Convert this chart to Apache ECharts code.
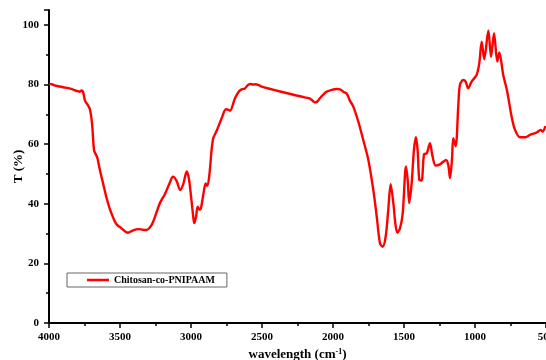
<!DOCTYPE html>
<html>
<head>
<meta charset="utf-8">
<script src="https://cdn.jsdelivr.net/npm/echarts@6/dist/echarts.min.js"></script>
<style>html,body{margin:0;padding:0;background:#fff}#c{width:546px;height:360px}</style>
</head>
<body>
<div id="c"></div>
<script>
var seriesName = 'Chitosan-co-PNIPAAM';
var wavenumbers = [4000,3975,3950,3900,3850,3800,3782,3772,3760,3746,3725,3711,3697,3683,3670,3660,3640,3620,3595,3570,3545,3523,3490,3444,3410,3373,3340,3312,3290,3268,3240,3218,3183,3150,3127,3100,3077,3055,3030,3015,3002,2985,2977,2965,2953,2940,2930,2910,2897,2885,2870,2855,2843,2819,2784,2754,2735,2725,2690,2660,2643,2620,2600,2585,2560,2549,2526,2502,2350,2200,2162,2140,2127,2110,2092,2060,2044,2009,1975,1951,1928,1904,1880,1857,1822,1787,1751,1716,1692,1669,1650,1629,1611,1594,1575,1560,1547,1528,1509,1486,1474,1463,1446,1430,1416,1404,1392,1376,1359,1340,1317,1301,1277,1247,1204,1188,1176,1162,1153,1136,1118,1106,1083,1066,1048,1024,989,970,953,935,906,887,866,843,829,801,773,742,718,683,648,613,566,538,523,505];
var transmittance = [80.3,80.0,79.6,79.1,78.6,77.8,77.6,78.0,77.5,74.5,73.0,71.5,67,58,56.5,55.5,51,47,42,38,35,33,31.8,30.3,31.0,31.5,31.3,31.2,32,33.8,37.5,40.3,43.3,47,49.1,47.5,44.6,46.5,50.8,48.5,43.5,36,33.5,35.5,39,38,38.5,44,46.8,46,50,58,62,64.5,68.7,71.7,71.5,71.2,75.4,77.8,78.4,78.7,79.8,80.2,80.0,80.1,79.9,79.3,77.4,75.7,75.3,74.4,74.0,74.3,75.4,77,77.6,78.2,78.5,78.4,77.6,77.0,74.5,72.6,67.6,61.4,54.7,44.6,35.7,26.7,25.6,29,37.9,46.6,40.2,33,30.3,31.8,36.8,52.5,48,40.2,46.9,58,62.3,58,48,47.8,56.6,56.9,60.3,56.4,52.8,53.2,54.7,53,48.6,55,62,59.3,72.6,79.9,81.5,81,78.7,81,83.2,87.1,94.4,88.5,98.1,89.3,97.2,87.7,90.8,83.2,77.6,69.2,64.8,62.3,62.3,63.1,63.9,64.8,64.2,66.1];
var xTicks = [500,1000,1500,2000,2500,3000,3500,4000];
var yTicks = [0,20,40,60,80,100];

var pts = wavenumbers.map(function(w,i){return [w, transmittance[i]];});
var font = "'Liberation Serif', 'Times New Roman', serif";
var chart = echarts.init(document.getElementById('c'), null, {renderer:'canvas'});
chart.setOption({
  animation:false,
  backgroundColor:'#fff',
  grid:{left:49,right:0,top:10,bottom:37,containLabel:false,outerBoundsMode:'none'},
  legend:{
    left:67, top:273, orient:'horizontal',
    padding:[2,12,2,20],
    borderColor:'#666', borderWidth:1,
    itemWidth:22, itemHeight:2.5, itemGap:4,
    textStyle:{fontFamily:font,fontWeight:'bold',fontSize:10,color:'#000'},
    data:[{name:seriesName, icon:'rect', itemStyle:{color:'#ff0000'}}]
  },
  xAxis:{
    type:'value', inverse:true, min:500, max:4000, interval:500,
    name:'wavelength (cm{sup|-1})', nameLocation:'middle', nameGap:25, nameMoveOverlap:false,
    nameTextStyle:{fontFamily:font,fontWeight:'bold',fontSize:13,color:'#000',
      rich:{sup:{fontFamily:font,fontWeight:'bold',fontSize:8,verticalAlign:'top',padding:[0,0,6,0],color:'#000'}}},
    axisLine:{show:true,onZero:false,lineStyle:{color:'#000',width:2}},
    axisTick:{show:true,inside:false,length:5,lineStyle:{color:'#000',width:1.5}},
    minorTick:{show:true,splitNumber:2,length:3,lineStyle:{color:'#000',width:1.5}},
    axisLabel:{fontFamily:font,fontWeight:'bold',fontSize:11,color:'#000',margin:9,
      formatter:function(v){return xTicks.indexOf(v)>=0?String(v):'';}},
    splitLine:{show:false}
  },
  yAxis:{
    type:'value', min:0, max:105, interval:20,
    name:'T (%)', nameLocation:'middle', nameGap:24, nameRotate:90, nameMoveOverlap:false,
    nameTextStyle:{fontFamily:font,fontWeight:'bold',fontSize:13,color:'#000'},
    axisLine:{show:true,lineStyle:{color:'#000',width:2}},
    axisTick:{show:true,inside:false,length:5,lineStyle:{color:'#000',width:1.5}},
    minorTick:{show:true,splitNumber:2,length:3,lineStyle:{color:'#000',width:1.5}},
    axisLabel:{fontFamily:font,fontWeight:'bold',fontSize:11,color:'#000',margin:10,
      formatter:function(v){return yTicks.indexOf(v)>=0?String(v):'';}},
    splitLine:{show:false}
  },
  series:[{
    name:seriesName, type:'line', data:pts, symbol:'none', smooth:0.3,
    lineStyle:{color:'#ff0000',width:2.4}, itemStyle:{color:'#ff0000'}, clip:true
  }]
});
</script>
</body>
</html>
